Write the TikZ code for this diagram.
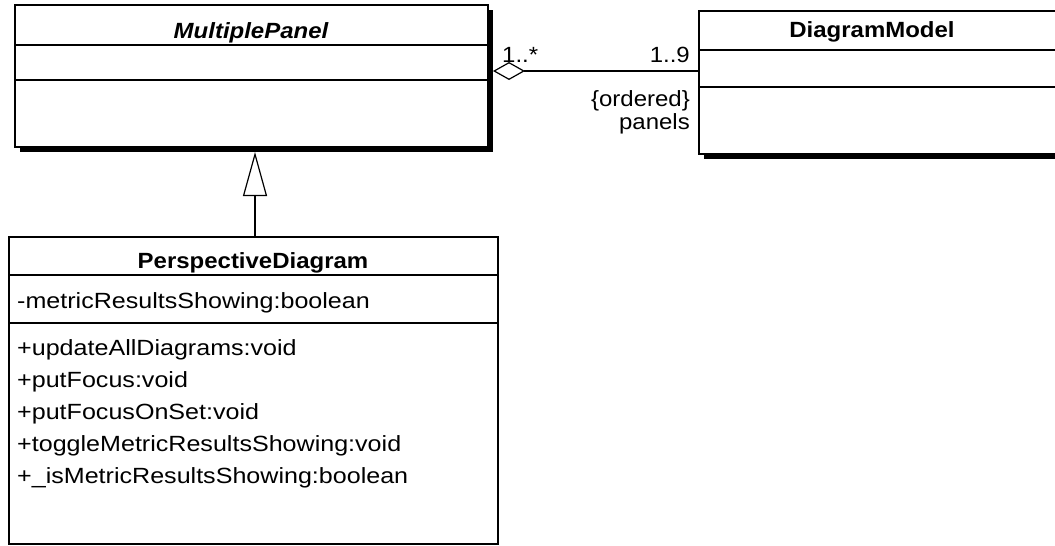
\documentclass[tikz,border=0pt]{standalone}
\usepackage{fontspec}
\setmainfont[FakeStretch=1.09]{Liberation Sans}
\newfontfamily\memberfont[FakeStretch=1.14]{Liberation Sans}
\usetikzlibrary{arrows.meta,shadows}
\begin{document}
\begin{tikzpicture}[x=1pt,y=-1pt,
  every node/.style={font=\fontsize{22}{26}\selectfont},
  classbox/.style={draw, line width=1.6pt, fill=white, inner sep=0pt, outer sep=0pt, anchor=north west},
  shadowed/.style={drop shadow={shadow xshift=4.5pt, shadow yshift=-4.5pt, opacity=1, fill=black}},
  sep/.style={line width=1.6pt},
  title/.style={anchor=base, font=\fontsize{22}{26}\selectfont\bfseries},
  member/.style={anchor=base west, inner sep=0pt, font=\memberfont\fontsize{22}{26}\selectfont},
  lbl/.style={inner sep=0pt},
  conn/.style={line width=1.2pt}
]
\useasboundingbox (0,0) rectangle (1055,546);
% MultiplePanel
\node[classbox, shadowed, minimum width=473pt, minimum height=142pt] (mp) at (15,5) {};
\draw[sep] (15,45) -- (488,45);
\draw[sep] (15,80) -- (488,80);
\node[title, font=\fontsize{22}{26}\selectfont\bfseries\itshape] (mpt) at (251,38) {MultiplePanel};
% DiagramModel
\node[classbox, shadowed, minimum width=420pt, minimum height=143pt] (dm) at (699,11) {};
\draw[sep] (699,50) -- (1119,50);
\draw[sep] (699,87) -- (1119,87);
\node[title] (dmt) at (872,37) {DiagramModel};
% PerspectiveDiagram
\node[classbox, minimum width=489pt, minimum height=307pt] (pd) at (9,237) {};
\draw[sep] (9,275) -- (498,275);
\draw[sep] (9,323) -- (498,323);
\node[title] (pdt) at (253,268) {PerspectiveDiagram};
\node[member] (a1) at (17,308) {-metricResultsShowing:boolean};
\node[member] (m1) at (17,355) {+updateAllDiagrams:void};
\node[member] (m2) at (17,387) {+putFocus:void};
\node[member] (m3) at (17,419) {+putFocusOnSet:void};
\node[member] (m4) at (17,451) {+toggleMetricResultsShowing:void};
\node[member] (m5) at (17,483) {+\_isMetricResultsShowing:boolean};
% connectors
\coordinate (inhx) at (255,0);
\draw[conn, -{Triangle[open,length=44pt,width=24pt,line width=1.2pt]}, shorten >=5pt] (pd.north -| inhx) -- (mp.south -| inhx);
\coordinate (ascy) at (0,71);
\draw[conn, {Diamond[open,length=32pt,width=18pt,line width=1.2pt]}-, shorten <=5pt] (mp.east |- ascy) -- (dm.west |- ascy);
% labels
\node[lbl, anchor=base west] (l1) at (502,62) {1..*};
\node[lbl, anchor=base east] (l2) at (690,62) {1..9};
\node[lbl, anchor=base east] (l3) at (690,106) {\{ordered\}};
\node[lbl, anchor=base east] (l4) at (690,129) {panels};
\end{tikzpicture}
\end{document}
